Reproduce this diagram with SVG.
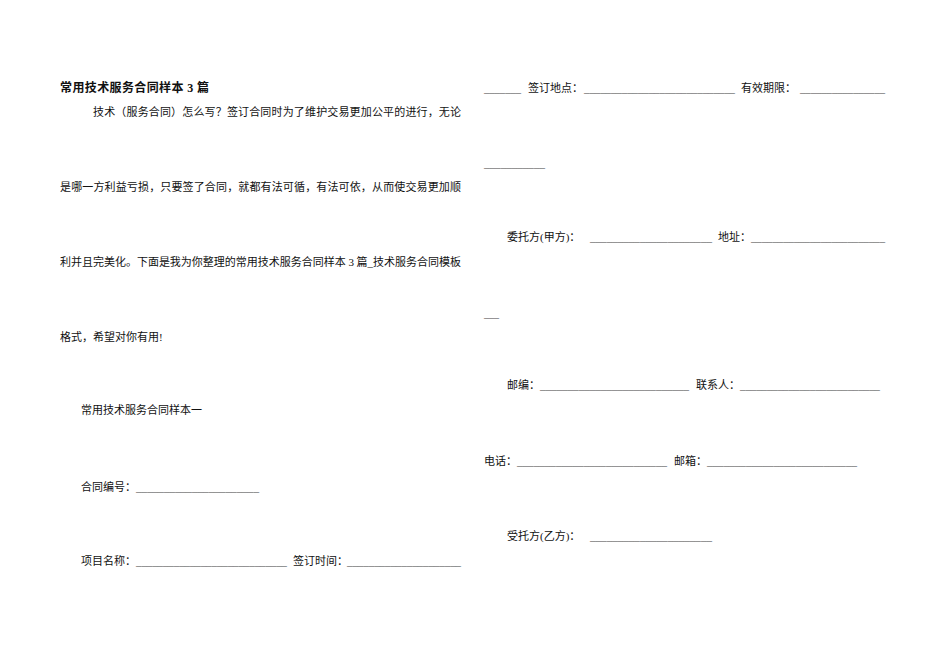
<svg xmlns="http://www.w3.org/2000/svg" width="950" height="672" viewBox="0 0 950 672">
<style>
text{font-family:"Liberation Serif","Noto Sans CJK SC",serif;font-size:11px;fill:#111}
.b{font-weight:bold;font-size:12px}
.u{fill:#444}
</style>
<rect width="950" height="672" fill="#fff"/>
<g id="left">
<text class="b" x="60" y="92" textLength="149" lengthAdjust="spacing">常用技术服务合同样本 3 篇</text>
<text x="93" y="116" textLength="368" lengthAdjust="spacing">技术（服务合同）怎么写？签订合同时为了维护交易更加公平的进行，无论</text>
<text x="60" y="191" textLength="401" lengthAdjust="spacing">是哪一方利益亏损，只要签了合同，就都有法可循，有法可依，从而使交易更加顺</text>
<text x="60" y="266" textLength="401" lengthAdjust="spacing">利并且完美化。下面是我为你整理的常用技术服务合同样本 3 篇_技术服务合同模板</text>
<text x="60" y="341">格式，希望对你有用!</text>
<text x="81" y="414">常用技术服务合同样本一</text>
<text x="81" y="491">合同编号：</text>
<text class="u" x="136" y="491" textLength="123" lengthAdjust="spacingAndGlyphs">______________________</text>
<text x="81" y="565">项目名称：</text>
<text class="u" x="136" y="565" textLength="151" lengthAdjust="spacingAndGlyphs">____________________________</text>
<text x="293" y="565">签订时间：</text>
<text class="u" x="347" y="565" textLength="114" lengthAdjust="spacingAndGlyphs">_____________________</text>
</g>
<g id="right">
<text class="u" x="484" y="92" textLength="37" lengthAdjust="spacingAndGlyphs">_______</text>
<text x="528" y="92">签订地点：</text>
<text class="u" x="584" y="92" textLength="151" lengthAdjust="spacingAndGlyphs">____________________________</text>
<text x="741" y="92">有效期限：</text>
<text class="u" x="800" y="92" textLength="85" lengthAdjust="spacingAndGlyphs">________________</text>
<text class="u" x="484" y="167" textLength="61" lengthAdjust="spacingAndGlyphs">___________</text>
<text x="507" y="241">委托方(甲方)：</text>
<text class="u" x="590" y="241" textLength="122" lengthAdjust="spacingAndGlyphs">______________________</text>
<text x="718" y="241">地址：</text>
<text class="u" x="751" y="241" textLength="134" lengthAdjust="spacingAndGlyphs">_________________________</text>
<text class="u" x="484" y="317" textLength="15" lengthAdjust="spacingAndGlyphs">___</text>
<text x="507" y="389">邮编：</text>
<text class="u" x="540" y="389" textLength="149" lengthAdjust="spacingAndGlyphs">___________________________</text>
<text x="696" y="389">联系人：</text>
<text class="u" x="740" y="389" textLength="140" lengthAdjust="spacingAndGlyphs">__________________________</text>
<text x="484" y="465">电话：</text>
<text class="u" x="517" y="465" textLength="150" lengthAdjust="spacingAndGlyphs">___________________________</text>
<text x="674" y="465">邮箱：</text>
<text class="u" x="707" y="465" textLength="150" lengthAdjust="spacingAndGlyphs">___________________________</text>
<text x="507" y="540">受托方(乙方)：</text>
<text class="u" x="590" y="540" textLength="122" lengthAdjust="spacingAndGlyphs">______________________</text>
</g>
</svg>
